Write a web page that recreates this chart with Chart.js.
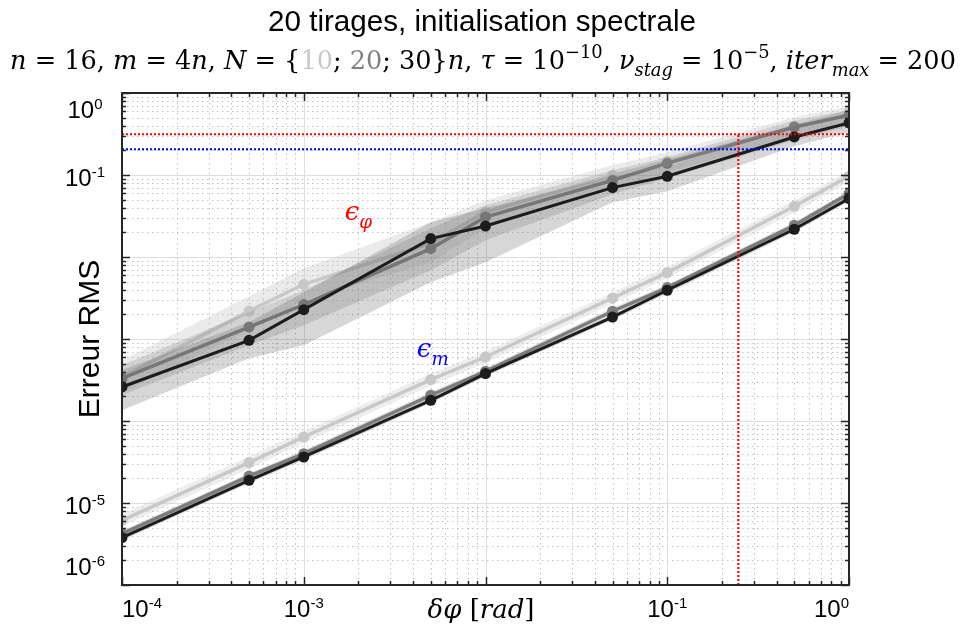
<!DOCTYPE html>
<html><head><meta charset="utf-8">
<script src="https://cdn.jsdelivr.net/npm/chart.js@4.4.1/dist/chart.umd.min.js"></script>
<style>html,body{margin:0;padding:0;background:#fff}canvas{display:block}</style>
</head><body>
<canvas id="chart" width="965" height="626" style="width:965px;height:626px"></canvas>
<script>
// ---------------- data ----------------
const dphi = [1e-4, 5e-4, 1e-3, 5e-3, 1e-2, 5e-2, 1e-1, 5e-1, 1];

// epsilon_phi, mean curves for N = 10n, 20n, 30n
const ephi10 = [3.44e-4, 2.19e-3, 4.65e-3, 1.47e-2, 3.54e-2, 9.91e-2, 0.147, 0.392, 0.587];
const ephi20 = [3.32e-4, 1.40e-3, 2.63e-3, 1.265e-2, 3.07e-2, 8.62e-2, 0.139, 0.385, 0.535];
const ephi30 = [2.60e-4, 9.64e-4, 2.28e-3, 1.676e-2, 2.388e-2, 7.02e-2, 9.64e-2, 0.291, 0.431];
// epsilon_phi, dispersion bands (upper / lower)
const ephi10Hi = [5.50e-4, 3.32e-3, 7.28e-3, 2.65e-2, 4.92e-2, 0.1313, 0.189, 0.506, 0.688];
const ephi10Lo = [2.24e-4, 1.28e-3, 2.97e-3, 8.62e-3, 2.24e-2, 6.88e-2, 0.1079, 0.2965, 0.439];
const ephi20Hi = [4.78e-4, 2.12e-3, 3.93e-3, 2.24e-2, 4.27e-2, 0.1141, 0.1644, 0.4646, 0.615];
const ephi20Lo = [2.06e-4, 8.38e-4, 1.47e-3, 6.89e-3, 1.60e-2, 5.82e-2, 9.12e-2, 0.265, 0.3926];
const ephi30Hi = [4.15e-4, 1.60e-3, 3.71e-3, 2.65e-2, 3.93e-2, 9.64e-2, 0.1277, 0.3926, 0.5655];
const ephi30Lo = [1.35e-4, 5.82e-4, 8.38e-4, 4.91e-3, 8.62e-3, 4.65e-2, 6.33e-2, 0.2239, 0.3317];

// epsilon_m, mean curves for N = 10n, 20n, 30n
const em10 = [6.15e-6, 3.11e-5, 6.38e-5, 3.20e-4, 6.03e-4, 3.16e-3, 6.45e-3, 4.15e-2, 9.64e-2];
const em20 = [4.24e-6, 2.13e-5, 4.00e-5, 2.06e-4, 4.04e-4, 2.18e-3, 4.24e-3, 2.44e-2, 5.93e-2];
const em30 = [3.79e-6, 1.89e-5, 3.64e-5, 1.79e-4, 3.79e-4, 1.85e-3, 3.93e-3, 2.18e-2, 5.16e-2];
// epsilon_m, dispersion bands
const em10Hi = [7.3e-6, 3.7e-5, 7.5e-5, 3.8e-4, 7.1e-4, 3.7e-3, 7.6e-3, 4.9e-2, 0.113];
const em10Lo = [5.2e-6, 2.6e-5, 5.4e-5, 2.7e-4, 5.1e-4, 2.7e-3, 5.5e-3, 3.5e-2, 8.2e-2];
const em20Hi = [4.6e-6, 2.3e-5, 4.4e-5, 2.25e-4, 4.4e-4, 2.4e-3, 4.6e-3, 2.66e-2, 6.46e-2];
const em20Lo = [3.9e-6, 1.95e-5, 3.7e-5, 1.9e-4, 3.7e-4, 2.0e-3, 3.9e-3, 2.24e-2, 5.44e-2];
const em30Hi = [4.1e-6, 2.05e-5, 3.95e-5, 1.95e-4, 4.1e-4, 2.0e-3, 4.3e-3, 2.37e-2, 5.6e-2];
const em30Lo = [3.5e-6, 1.74e-5, 3.35e-5, 1.65e-4, 3.5e-4, 1.7e-3, 3.6e-3, 2.0e-2, 4.75e-2];

// reference levels
const refPhi = 0.313;   // red dotted horizontal
const refM = 0.206;     // blue dotted horizontal
const refX = 0.246;     // red dotted vertical

// axes
const xMin = 1e-4, xMax = 1;
const yMin = 1e-6, yMax = 1;
const xTickVals = [1e-4, 1e-3, 1e-1, 1];
const xTickExps = ['-4', '-3', '-1', '0'];
const yTickVals = [1, 1e-1, 1e-5, 1e-6];
const yTickExps = ['0', '-1', '-5', '-6'];

// annotation anchors (data coordinates)
const phiLabelAt = {x: 1.68e-3, y: 2.8e-2};
const mLabelAt = {x: 4.19e-3, y: 5.98e-4};

// ---------------- styling ----------------
const SANS = '"Liberation Sans", Arial, sans-serif';
const SERIF = '"DejaVu Serif", serif';
const C10 = '#c8c8c8', C20 = '#7d7d7d', C30 = '#1c1c1c';

function pts(ys) { return dphi.map((x, i) => ({x: x, y: ys[i]})); }
const datasets = [];
function addBand(hi, lo, color) {
  datasets.push({data: pts(hi), fill: '+1', backgroundColor: color, borderColor: 'rgba(0,0,0,0)', borderWidth: 0, pointRadius: 0});
  datasets.push({data: pts(lo), fill: false, backgroundColor: 'rgba(0,0,0,0)', borderColor: 'rgba(0,0,0,0)', borderWidth: 0, pointRadius: 0});
}
function addLine(ys, color, w) {
  datasets.push({data: pts(ys), fill: false, borderColor: color, backgroundColor: color, borderWidth: w,
    pointRadius: 5.5, pointHoverRadius: 5.5, pointBackgroundColor: color, pointBorderColor: color, pointBorderWidth: 0});
}
function addRef(p, color) {
  datasets.push({data: p, fill: false, borderColor: color, borderWidth: 2, borderDash: [2, 2], pointRadius: 0});
}
// epsilon_m group
addBand(em10Hi, em10Lo, 'rgba(200,200,200,0.30)'); addLine(em10, C10, 3.5);
addBand(em20Hi, em20Lo, 'rgba(150,150,150,0.25)'); addLine(em20, C20, 3.5);
addBand(em30Hi, em30Lo, 'rgba(100,100,100,0.22)'); addLine(em30, C30, 3);
// epsilon_phi group
addBand(ephi10Hi, ephi10Lo, 'rgba(190,190,190,0.30)'); addLine(ephi10, C10, 3.5);
addBand(ephi20Hi, ephi20Lo, 'rgba(140,140,140,0.28)'); addLine(ephi20, C20, 3.5);
addBand(ephi30Hi, ephi30Lo, 'rgba(100,100,100,0.26)'); addLine(ephi30, C30, 3);
// reference lines
addRef([{x: xMin, y: refPhi}, {x: xMax, y: refPhi}], '#ff0000');
addRef([{x: xMin, y: refM}, {x: xMax, y: refM}], '#0000ff');
addRef([{x: refX, y: yMin}, {x: refX, y: refPhi}], '#ff0000');
datasets.forEach((d, i) => { d.order = -i; d.tension = 0; });

// ---------------- rich text helper ----------------
function layoutRich(ctx, segs, size, fam) {
  let total = 0;
  const items = segs.map(s => {
    const sz = (s.sup || s.sub) ? size * 0.7 : size;
    const font = (s.it ? 'italic ' : '') + sz + 'px ' + (s.fam || fam);
    ctx.font = font;
    const w = ctx.measureText(s.t).width;
    total += w;
    return {t: s.t, font: font, w: w, col: s.col || '#000', dy: s.sup ? -0.42 * size : (s.sub ? 0.28 * size : 0)};
  });
  return {items: items, width: total};
}
function drawRich(ctx, segs, x, y, align, size, fam) {
  const L = layoutRich(ctx, segs, size, fam);
  let cx = align === 'center' ? x - L.width / 2 : (align === 'right' ? x - L.width : x);
  ctx.textAlign = 'left'; ctx.textBaseline = 'alphabetic';
  L.items.forEach(it => { ctx.font = it.font; ctx.fillStyle = it.col; ctx.fillText(it.t, cx, y + it.dy); cx += it.w; });
  return L.width;
}
function fitSize(ctx, segs, fam, target) {
  const w = layoutRich(ctx, segs, 20, fam).width;
  return 20 * target / w;
}
function powLabel(ctx, exp) {
  ctx.font = '24px ' + SANS; const w1 = ctx.measureText('10').width;
  ctx.font = '15px ' + SANS; const w2 = ctx.measureText(exp).width;
  return {w1: w1, w2: w2, w: w1 + w2};
}
function drawPow(ctx, exp, cx, base) {
  const m = powLabel(ctx, exp);
  const x0 = cx - m.w / 2;
  ctx.fillStyle = '#000'; ctx.textAlign = 'left'; ctx.textBaseline = 'alphabetic';
  ctx.font = '24px ' + SANS; ctx.fillText('10', x0, base);
  ctx.font = '15px ' + SANS; ctx.fillText(exp, x0 + m.w1, base - 9);
}

const title1 = [{t: '20 tirages, initialisation spectrale'}];
const title2 = [
  {t: 'n', it: 1}, {t: ' = 16, '}, {t: 'm', it: 1}, {t: ' = 4'}, {t: 'n', it: 1}, {t: ', '},
  {t: 'N', it: 1}, {t: ' = {'}, {t: '10', col: C10}, {t: '; '}, {t: '20', col: '#808080'}, {t: '; 30}'},
  {t: 'n', it: 1}, {t: ', '}, {t: 'τ', it: 1}, {t: ' = 10'}, {t: '−10', sup: 1}, {t: ', '},
  {t: 'ν', it: 1}, {t: 'stag', it: 1, sub: 1}, {t: ' = 10'}, {t: '−5', sup: 1}, {t: ', '},
  {t: 'iter', it: 1}, {t: 'max', it: 1, sub: 1}, {t: ' = 200'}
];
const xTitle = [{t: 'δφ', it: 1}, {t: ' ['}, {t: 'rad', it: 1}, {t: ']'}];

const deco = {
  id: 'deco',
  beforeDatasetsDraw(chart) {
    const ctx = chart.ctx, a = chart.chartArea, xs = chart.scales.x, ys = chart.scales.y;
    ctx.save();
    ctx.lineWidth = 1;
    // minor grid (dotted)
    ctx.strokeStyle = '#c2c2c2'; ctx.setLineDash([1.5, 3.5]);
    ctx.beginPath();
    for (let d = -4; d < 0; d++) for (let k = 2; k <= 9; k++) {
      const px = Math.round(xs.getPixelForValue(k * Math.pow(10, d))) + 0.5;
      ctx.moveTo(px, a.top); ctx.lineTo(px, a.bottom);
    }
    for (let d = -6; d < 0; d++) for (let k = 2; k <= 9; k++) {
      const py = Math.round(ys.getPixelForValue(k * Math.pow(10, d))) + 0.5;
      ctx.moveTo(a.left, py); ctx.lineTo(a.right, py);
    }
    ctx.stroke();
    // major grid (solid)
    ctx.setLineDash([]); ctx.strokeStyle = '#dedede';
    ctx.beginPath();
    for (let d = -3; d < 0; d++) {
      const px = Math.round(xs.getPixelForValue(Math.pow(10, d))) + 0.5;
      ctx.moveTo(px, a.top); ctx.lineTo(px, a.bottom);
    }
    for (let d = -5; d < 0; d++) {
      const py = Math.round(ys.getPixelForValue(Math.pow(10, d))) + 0.5;
      ctx.moveTo(a.left, py); ctx.lineTo(a.right, py);
    }
    ctx.stroke();
    ctx.restore();
  },
  afterDatasetsDraw(chart) {
    const ctx = chart.ctx, a = chart.chartArea, xs = chart.scales.x, ys = chart.scales.y;
    ctx.save();
    // tick marks, inside, on all sides
    ctx.strokeStyle = '#262626'; ctx.lineWidth = 1.5; ctx.setLineDash([]);
    ctx.beginPath();
    for (let d = -4; d <= 0; d++) for (let k = 1; k <= 9; k++) {
      const v = k * Math.pow(10, d); if (v > xMax * 1.0001) break;
      const L = k === 1 ? 8 : 4;
      const px = Math.round(xs.getPixelForValue(v)) + 0.5;
      ctx.moveTo(px, a.bottom); ctx.lineTo(px, a.bottom - L);
      ctx.moveTo(px, a.top); ctx.lineTo(px, a.top + L);
    }
    for (let d = -6; d <= 0; d++) for (let k = 1; k <= 9; k++) {
      const v = k * Math.pow(10, d); if (v > yMax * 1.0001) break;
      const L = k === 1 ? 8 : 4;
      const py = Math.round(ys.getPixelForValue(v)) + 0.5;
      ctx.moveTo(a.left, py); ctx.lineTo(a.left + L, py);
      ctx.moveTo(a.right, py); ctx.lineTo(a.right - L, py);
    }
    ctx.stroke();
    // box
    ctx.lineWidth = 2; ctx.strokeStyle = '#262626';
    ctx.strokeRect(a.left, a.top, a.right - a.left, a.bottom - a.top);

    // tick labels
    xTickVals.forEach((v, i) => {
      const m = powLabel(ctx, xTickExps[i]);
      let cx = xs.getPixelForValue(v);
      cx = Math.min(Math.max(cx, a.left + m.w / 2), a.right - m.w / 2);
      drawPow(ctx, xTickExps[i], cx, 617);
    });
    yTickVals.forEach((v, i) => {
      let base = ys.getPixelForValue(v) + 11;
      base = Math.min(Math.max(base, a.top + 25), a.bottom - 10);
      drawPow(ctx, yTickExps[i], 85, base);
    });

    // axis titles
    drawRich(ctx, xTitle, 481, 618, 'center', 26, SERIF);
    ctx.save();
    ctx.translate(99, (a.top + a.bottom) / 2); ctx.rotate(-Math.PI / 2);
    ctx.font = '30px ' + SANS; ctx.fillStyle = '#000'; ctx.textAlign = 'center'; ctx.textBaseline = 'alphabetic';
    ctx.fillText('Erreur RMS', 0, 0);
    ctx.restore();

    // chart titles
    const s1 = fitSize(ctx, title1, SANS, 428);
    drawRich(ctx, title1, 482, 31, 'center', s1, SANS);
    const s2 = fitSize(ctx, title2, SERIF, 946);
    drawRich(ctx, title2, 483, 69, 'center', s2, SERIF);

    // curve annotations
    const phiX = xs.getPixelForValue(phiLabelAt.x), phiY = ys.getPixelForValue(phiLabelAt.y);
    drawRich(ctx, [{t: 'ϵ', it: 1, col: '#ff0000'}, {t: 'φ', it: 1, sub: 1, col: '#ff0000'}], phiX, phiY, 'left', 26, SERIF);
    const mX = xs.getPixelForValue(mLabelAt.x), mY = ys.getPixelForValue(mLabelAt.y);
    drawRich(ctx, [{t: 'ϵ', it: 1, col: '#0000ff'}, {t: 'm', it: 1, sub: 1, col: '#0000ff'}], mX, mY, 'left', 26, SERIF);
    ctx.restore();
  }
};

new Chart(document.getElementById('chart'), {
  type: 'line',
  data: {datasets: datasets},
  options: {
    responsive: false, animation: false, devicePixelRatio: 1,
    layout: {padding: {left: 122, right: 116, top: 93, bottom: 41}},
    scales: {
      x: {type: 'logarithmic', min: xMin, max: xMax, display: false},
      y: {type: 'logarithmic', min: yMin, max: yMax, display: false}
    },
    plugins: {legend: {display: false}, tooltip: {enabled: false}, title: {display: false}}
  },
  plugins: [deco]
});
</script>
</body></html>
